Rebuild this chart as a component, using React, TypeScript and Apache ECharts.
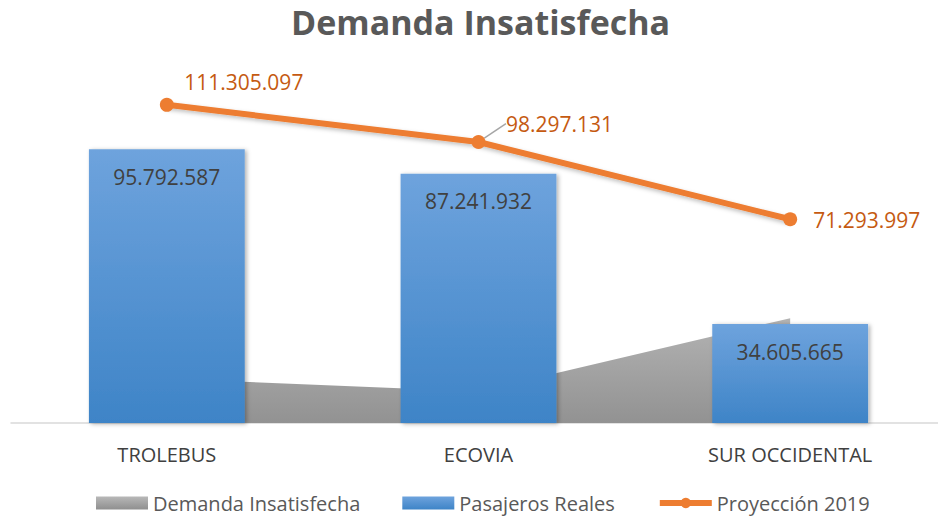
import React, { useEffect, useRef } from "react";
import * as echarts from "echarts";

const categories = ["TROLEBUS", "ECOVIA", "SUR OCCIDENTAL"];
const pasajerosReales = [95792587, 87241932, 34605665];
const proyeccion2019 = [111305097, 98297131, 71293997];
const demandaInsatisfecha = [15512510, 11055199, 36688332];

const fmt = (v: number) => v.toString().replace(/\B(?=(\d{3})+(?!\d))/g, ".");

const FONT = "'Open Sans', 'Noto Sans', sans-serif";

export default function App() {
  const ref = useRef<HTMLDivElement>(null);
  useEffect(() => {
    if (!ref.current) return;
    const chart = echarts.init(ref.current, undefined, { renderer: "svg" });
    const labelPos = ["top", "top", "right"];
    const labelShift = [
      { dx: 77, dy: 0 },
      { dx: 81, dy: 4 },
      { dx: 11, dy: 1 },
    ];
    chart.setOption({
      animation: false,
      textStyle: { fontFamily: FONT },
      title: {
        text: "Demanda Insatisfecha",
        left: 286,
        top: 0,
        textStyle: { fontSize: 34, fontWeight: "bold", color: "#595959", fontFamily: FONT },
      },
      legend: {
        bottom: 1,
        left: 91,
        itemWidth: 52,
        itemHeight: 13,
        itemGap: 42,
        textStyle: { fontSize: 20, color: "#595959", fontFamily: FONT },
        data: [
          { name: "Demanda Insatisfecha", icon: "rect" },
          { name: "Pasajeros Reales", icon: "rect" },
          { name: "Proyección 2019", lineStyle: { width: 6 } },
        ],
      },
      grid: { left: 11, right: 0, top: 80, bottom: 96 },
      xAxis: {
        type: "category",
        data: categories,
        axisLine: { lineStyle: { color: "#d9d9d9", width: 1.5 } },
        axisTick: { show: false },
        axisLabel: { fontSize: 20, color: "#404040", margin: 21, fontFamily: FONT },
      },
      yAxis: {
        type: "value",
        min: 0,
        max: 120000000,
        show: false,
        splitLine: { show: false },
      },
      series: [
        {
          name: "Demanda Insatisfecha",
          type: "line",
          data: demandaInsatisfecha,
          symbol: "none",
          lineStyle: { width: 0 },
          z: 1,
          itemStyle: {
            color: new echarts.graphic.LinearGradient(0, 0, 0, 1, [
              { offset: 0, color: "#b8b8b8" },
              { offset: 1, color: "#8f8f8f" },
            ]),
          },
          areaStyle: {
            opacity: 1,
            color: new echarts.graphic.LinearGradient(0, 0, 0, 1, [
              { offset: 0, color: "#b3b3b3" },
              { offset: 1, color: "#929292" },
            ]),
          },
        },
        {
          name: "Pasajeros Reales",
          type: "bar",
          data: pasajerosReales,
          barWidth: "50%",
          z: 2,
          itemStyle: {
            color: new echarts.graphic.LinearGradient(0, 0, 0, 1, [
              { offset: 0, color: "#6ea3dd" },
              { offset: 1, color: "#3e84c7" },
            ]),
            shadowBlur: 4,
            shadowOffsetX: 2,
            shadowOffsetY: 1,
            shadowColor: "rgba(0,0,0,0.3)",
          },
          label: {
            show: true,
            position: "insideTop",
            distance: 17,
            color: "#404040",
            fontSize: 21,
            fontFamily: FONT,
            formatter: (p: any) => fmt(p.value),
          },
        },
        {
          name: "Proyección 2019",
          type: "line",
          z: 3,
          data: proyeccion2019.map((v, i) => ({
            value: v,
            label: { position: labelPos[i] },
            labelLine: { show: i === 1 },
          })),
          symbol: "circle",
          symbolSize: 14,
          color: "#ED7D31",
          lineStyle: { width: 6, color: "#ED7D31", shadowBlur: 4, shadowColor: "rgba(0,0,0,0.25)", shadowOffsetY: 2 },
          itemStyle: { color: "#ED7D31" },
          label: {
            show: true,
            color: "#C55A11",
            fontSize: 21,
            fontFamily: FONT,
            formatter: (p: any) => fmt(p.value),
          },
          labelLine: { lineStyle: { color: "#a6a6a6", width: 1.5 } },
          labelLayout: (p: any) => labelShift[p.dataIndex],
        },
      ],
    });
    return () => chart.dispose();
  }, []);
  return (
    <div style={{ position: "absolute", left: 0, top: 0, width: 938, height: 519, overflow: "hidden" }}>
      <div ref={ref} style={{ width: 946, height: 519 }} />
    </div>
  );
}
